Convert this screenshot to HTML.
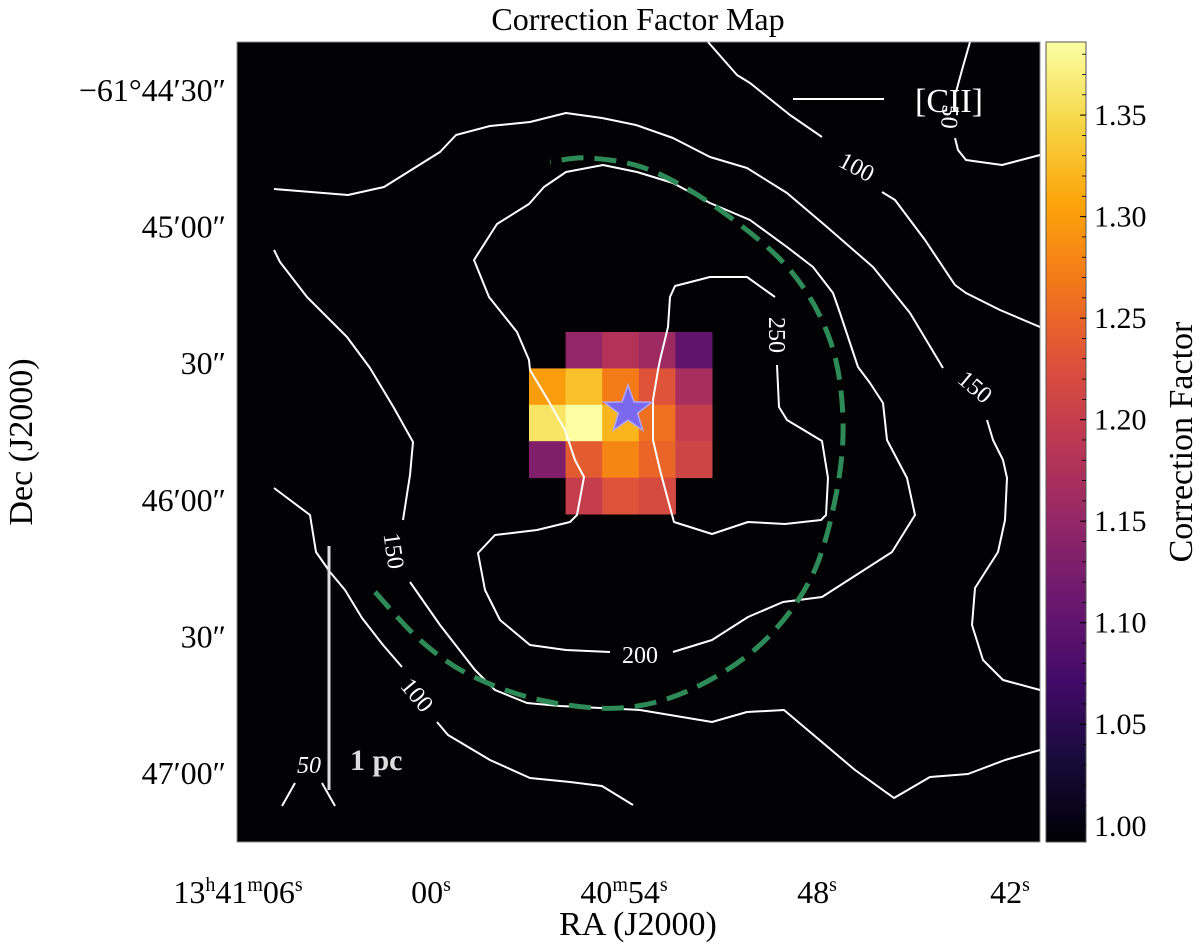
<!DOCTYPE html>
<html><head><meta charset="utf-8"><style>
html,body{margin:0;padding:0;background:#fff}
svg{display:block;font-family:"Liberation Serif",serif}
</style></head><body>
<svg id="chart" width="1200" height="952" viewBox="0 0 1200 952" xmlns="http://www.w3.org/2000/svg">
<text x="638" y="30" font-size="32" text-anchor="middle">Correction Factor Map</text>
<rect x="237" y="42" width="803" height="800" fill="#020104" stroke="#888" stroke-width="1"/>
<g id="heat"></g>
<g id="contours" fill="none" stroke="#fff" stroke-width="2" stroke-linejoin="round">
<polyline points="274,189 348,195 384,187 440,152 456,135 490,126 530,122 566,113 602,118 636,125 673,138 710,157 747,168 787,193 827,227 873,267 910,313 943,368"/>
<polyline points="987,420 993,440 1003,460 1007,478 1005,520 998,552 975,588 972,625 983,660 1003,680 1040,690"/>
<polyline points="274,250 280,262 307,297 347,337 370,368 394,408 413,442 410,475 403,520"/>
<polyline points="410,582 440,625 475,670 495,690 527,703 560,706 640,710 712,722 747,712 784,710 855,770 894,798 930,777 968,774 1005,760 1040,750"/>
<polyline points="274,488 310,515 316,552 330,572 345,590 362,618 383,645 402,667"/>
<polyline points="437,722 448,735 490,760 530,778 570,782 602,786 633,805"/>
<polyline points="708,42 737,75 750,83 790,115 822,137"/>
<polyline points="882,192 895,200 925,240 955,285 966,293 1000,310 1040,327"/>
<polyline points="970,42 962,70 956,92"/>
<polyline points="955,138 958,150 966,160 1002,165 1040,155"/>
<polyline points="282,806 295,783"/>
<polyline points="322,783 335,806"/>
<polyline points="610,652 566,650 530,645 500,620 485,590 478,553 495,535 537,530 570,522 577,515 584,477 575,460 565,430 548,400 530,370 529,360 517,332 489,297 474,260 497,224 529,204 544,187 566,172 603,165 637,172 673,183 710,203 750,220 787,247 813,267 833,293 840,313 858,367 870,383 883,403 887,440 907,478 915,515 892,552 822,597 783,602 748,617 712,640 673,652"/>
<polyline points="775,297 747,277 710,277 675,286 670,297 668,327 660,360 658,370 653,400 653,440 660,470 668,500 674,522 712,534 748,522 785,524 821,520 826,515 828,478 822,441 787,420 779,407 777,365"/>
</g>
<g fill="#fff" font-size="24" text-anchor="middle">
<text transform="translate(853,174) rotate(28)">100</text>
<text transform="translate(970,393) rotate(40)">150</text>
<text transform="translate(769,335) rotate(90)">250</text>
<text transform="translate(386,552) rotate(82)">150</text>
<text transform="translate(411,700) rotate(50)">100</text>
<text x="640" y="663">200</text>
<text transform="translate(942,116) rotate(95)">50</text>
<text x="309" y="773" font-style="italic">50</text>
</g>
<path id="ring" fill="none" stroke="#2e8b57" stroke-width="5" stroke-dasharray="22,11"/>
<polygon id="star" fill="#7b68ee" stroke="#b0a8ff" stroke-width="1.5"/>
<line x1="329" y1="546" x2="329" y2="790" stroke="#ddd" stroke-width="3"/>
<text x="350" y="770" font-size="30" font-weight="bold" fill="#ddd">1 pc</text>
<line x1="793" y1="99" x2="884" y2="99" stroke="#fff" stroke-width="2"/>
<text x="915" y="112" font-size="34" fill="#fff">[CII]</text>
<g id="yticks" font-size="32" text-anchor="end"></g>
<g id="xticks" font-size="32" text-anchor="middle"></g>
<text transform="translate(32,442) rotate(-90)" font-size="34" text-anchor="middle">Dec (J2000)</text>
<text x="638" y="935" font-size="34" text-anchor="middle">RA (J2000)</text>
<defs><linearGradient id="inferno" x1="0" y1="1" x2="0" y2="0"></linearGradient></defs>
<rect x="1046" y="42" width="40" height="800" fill="url(#inferno)" stroke="#555" stroke-width="1"/>
<g id="cbticks" font-size="30"></g>
<text transform="translate(1192,442) rotate(-90)" font-size="34" text-anchor="middle">Correction Factor</text>
</svg>
<script>
const heatRows = [
  [null, 1.15, 1.18, 1.16, 1.10],
  [1.30, 1.33, 1.27, 1.23, 1.17],
  [1.36, 1.385, 1.32, 1.26, 1.20],
  [1.13, 1.24, 1.28, 1.25, 1.21],
  [null, 1.20, 1.23, 1.22, null]
];
const cbTickValues = [1.00, 1.05, 1.10, 1.15, 1.20, 1.25, 1.30, 1.35];
const yTickLabels = ["\u221261\u00b044\u203230\u2033", "45\u203200\u2033", "30\u2033", "46\u203200\u2033", "30\u2033", "47\u203200\u2033"];
const xTickLabels = [["13","h","41","m","06","s"], ["00","s"], ["40","m","54","s"], ["48","s"], ["42","s"]];
const vmin = 0.992, vmax = 1.386;
const NS = "http://www.w3.org/2000/svg";
const stops = [[0,"#000004"],[0.1,"#160b39"],[0.2,"#420a68"],[0.3,"#6a176e"],[0.4,"#932667"],[0.5,"#bc3754"],[0.6,"#dd513a"],[0.7,"#f37819"],[0.8,"#fca50a"],[0.9,"#f6d746"],[1,"#fcffa4"]];
function hex(h){return [1,3,5].map(i=>parseInt(h.substr(i,2),16));}
function cmap(v){let t=Math.max(0,Math.min(1,(v-vmin)/(vmax-vmin)));
  for(let i=0;i<stops.length-1;i++){if(t<=stops[i+1][0]){const a=hex(stops[i][1]),b=hex(stops[i+1][1]);const f=(t-stops[i][0])/(stops[i+1][0]-stops[i][0]);return "rgb("+a.map((x,k)=>Math.round(x+(b[k]-x)*f)).join(",")+")";}}
  return stops[stops.length-1][1];}
function el(tag,attrs,parent){const e=document.createElementNS(NS,tag);for(const k in attrs)e.setAttribute(k,attrs[k]);parent.appendChild(e);return e;}
const cellX0=529, cellY0=332, cellW=36.6, cellH=36.4;
const xCell=c=>cellX0+c*cellW, yCell=r=>cellY0+r*cellH;
const heat=document.getElementById("heat");
heatRows.forEach((row,r)=>row.forEach((v,c)=>{if(v===null)return;
  const rc=el("rect",{x:xCell(c),y:yCell(r),width:cellW+0.5,height:cellH+0.5,fill:cmap(v)},heat);
  
  
}));
const grad=document.getElementById("inferno");
stops.forEach(s=>el("stop",{offset:s[0],"stop-color":s[1]},grad));
const cbY=v=>842-(v-vmin)/(vmax-vmin)*800;
const cbt=document.getElementById("cbticks");
cbTickValues.forEach(v=>{
  const y=cbY(v);
  const ln=el("line",{x1:1080,y1:y,x2:1086,y2:y,stroke:"#000","stroke-width":1},cbt);
  
  
  const t=el("text",{x:1094,y:y+10},cbt); t.textContent=v.toFixed(2);
  
  
});
for(let v=1.00;v<1.386;v+=0.01){const y=cbY(v);const m=el("line",{x1:1082,y1:y,x2:1086,y2:y,stroke:"#000","stroke-width":0.8},cbt);
  
  }
const yt=document.getElementById("yticks");
yTickLabels.forEach((s,i)=>{const y=90+i*136.6;
  const t=el("text",{x:226,y:y+11},yt); t.textContent=s;
  
  });
const xt=document.getElementById("xticks");
xTickLabels.forEach((parts,i)=>{const x=238+i*193;
  const t=el("text",{x:x,y:903},xt);
  
  
  parts.forEach((p,k)=>{const ts=el("tspan",{},t);ts.textContent=p;
    if(k%2===1){ts.setAttribute("font-size","20");ts.setAttribute("dy","-12");}
    else if(k>0){ts.setAttribute("dy","12");}});
});
const ringPts=[[375,592],[420,640],[470,675],[540,700],[620,708],[690,690],[760,645],[810,580],[835,500],[843,420],[830,340],[790,270],[720,210],[650,170],[590,158],[550,162]];
let d="M"+ringPts[0].join(",");
for(let i=0;i<ringPts.length-1;i++){const p0=ringPts[Math.max(0,i-1)],p1=ringPts[i],p2=ringPts[i+1],p3=ringPts[Math.min(ringPts.length-1,i+2)];
  d+=" C"+(p1[0]+(p2[0]-p0[0])/6)+","+(p1[1]+(p2[1]-p0[1])/6)+" "+(p2[0]-(p3[0]-p1[0])/6)+","+(p2[1]-(p3[1]-p1[1])/6)+" "+p2[0]+","+p2[1];}
document.getElementById("ring").setAttribute("d",d);
const sp=[];for(let i=0;i<10;i++){const r=i%2?10:25,a=-Math.PI/2+i*Math.PI/5;sp.push((628+r*Math.cos(a)).toFixed(1)+","+(410+r*Math.sin(a)).toFixed(1));}
document.getElementById("star").setAttribute("points",sp.join(" "));
</script>
</body></html>
